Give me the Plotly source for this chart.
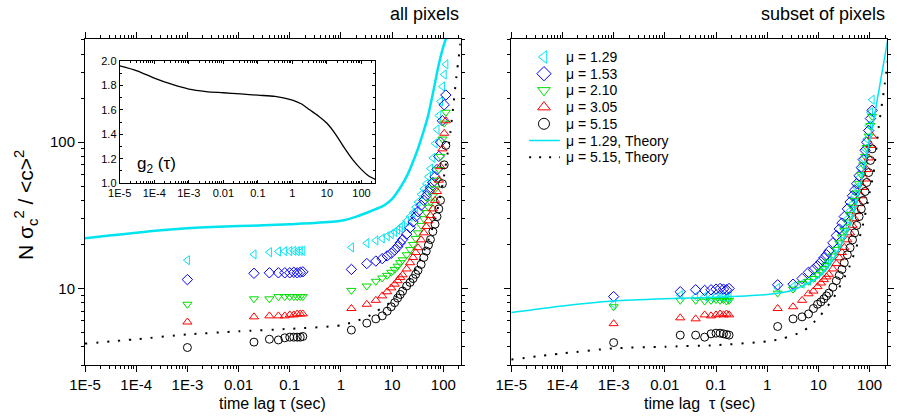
import math
import plotly.graph_objects as go

# ---------------- data ----------------
tau = [0.001, 0.02, 0.04, 0.06, 0.08, 0.10, 0.12, 0.14, 0.16, 0.18,
       1.6, 3.2, 4.8, 6.4, 8.0, 9.6, 11.2, 12.8, 14.4, 16.0,
       19.2, 22.4, 25.6, 28.8, 32.0, 36.8, 41.6, 46.4, 51.2, 56.0,
       62.4, 68.8, 75.2, 81.6, 88.0, 96.0, 104.0, 112.0]

# all pixels
all_mu129 = [15.6, 17.1, 17.7, 17.9, 18.0, 18.0, 18.1, 18.0, 18.1, 18.1,
             19.1, 20.4, 21.3, 22.0, 22.8, 23.5, 24.3, 25.2, 26.0, 27.0,
             29.0, 31.0, 33.0, 36.0, 39.0, 44.0, 48.0, 52.0, 58.0, 66.0,
             78.0, 98.0, 122.0, 152.0, 190.0, 240.0, 290.0, 340.0]
all_mu153 = [11.5, 12.7, 12.8, 12.8, 12.8, 12.8, 12.9, 12.8, 12.9, 13.0,
             13.5, 14.8, 15.4, 16.0, 16.7, 17.4, 18.3, 19.3, 20.5, 21.6,
             23.5, 26.0, 28.5, 31.0, 33.5, 37.0, 40.0, 43.0, 46.0, 49.0,
             53.0, 58.0, 65.0, 80.0, 100.0, 140.0, 180.0, 210.0]
all_mu210 = [7.8, 8.5, 8.5, 8.8, 8.8, 8.8, 8.8, 8.8, 8.8, 8.8,
             9.7, 10.4, 11.2, 11.8, 12.3, 12.9, 13.5, 14.2, 15.0, 15.7,
             17.0, 18.5, 20.0, 22.0, 24.0, 27.0, 30.0, 33.0, 36.0, 39.0,
             43.0, 48.0, 55.0, 65.0, 80.0, 105.0, 135.0, 160.0]
all_mu305 = [5.9, 6.4, 6.5, 6.5, 6.5, 6.6, 6.6, 6.7, 6.7, 6.7,
             7.3, 7.8, 8.3, 8.9, 9.5, 10.1, 10.7, 11.3, 11.9, 12.4,
             13.6, 15.0, 16.3, 17.6, 19.0, 21.5, 24.0, 26.5, 29.0, 31.5,
             35.0, 40.0, 46.0, 55.0, 68.0, 90.0, 115.0, 140.0]
all_mu515 = [3.95, 4.3, 4.5, 4.45, 4.6, 4.65, 4.65, 4.65, 4.65, 4.7,
             5.2, 5.8, 6.2, 6.5, 7.0, 7.5, 8.0, 8.6, 9.1, 9.6,
             10.4, 11.0, 11.7, 12.5, 13.3, 14.6, 16.3, 18.0, 19.8, 21.6,
             24.5, 27.5, 31.0, 35.0, 40.0, 52.0, 70.0, 95.0]

# subset of pixels
sub_mu129 = [7.8, 9.0, 8.8, 8.8, 8.7, 8.8, 8.7, 8.8, 8.7, 8.8,
             10.1, 10.3, 10.8, 11.3, 11.9, 12.6, 13.3, 14.0, 14.8, 15.5,
             17.0, 19.0, 21.0, 23.5, 26.0, 30.0, 34.0, 38.0, 43.0, 49.0,
             57.0, 66.0, 77.0, 90.0, 105.0, 130.0, 160.0, 195.0]
sub_mu153 = [8.8, 9.5, 9.8, 9.7, 9.8, 9.9, 10.0, 9.9, 9.8, 10.0,
             10.6, 10.7, 11.7, 12.9, 13.5, 14.3, 15.2, 16.2, 17.0, 18.0,
             20.5, 23.0, 25.5, 28.0, 31.0, 35.0, 39.0, 43.0, 47.0, 52.0,
             59.0, 67.0, 76.0, 88.0, 100.0, 120.0, 145.0, 165.0]
sub_mu210 = [7.5, 8.3, 8.3, 8.2, 8.3, 8.4, 8.3, 8.4, 8.2, 8.3,
             9.3, 9.9, 10.8, 11.2, 11.7, 12.4, 13.0, 13.7, 14.4, 15.2,
             16.7, 18.5, 20.5, 22.5, 25.0, 28.5, 32.0, 36.0, 40.0, 45.0,
             52.0, 60.0, 70.0, 80.0, 92.0, 110.0, 130.0, 150.0]
sub_mu305 = [5.75, 6.3, 6.2, 6.6, 6.5, 6.6, 6.7, 6.6, 6.7, 6.6,
             7.3, 7.5, 8.3, 9.2, 9.6, 10.3, 10.9, 11.5, 12.0, 12.5,
             13.6, 14.8, 16.2, 17.6, 19.1, 21.5, 24.0, 27.0, 30.0, 33.5,
             38.0, 43.0, 49.0, 56.0, 65.0, 78.0, 95.0, 110.0]
sub_mu515 = [4.27, 4.8, 4.8, 4.65, 4.9, 4.95, 4.95, 4.9, 4.85, 4.8,
             5.5, 6.2, 6.4, 6.7, 7.3, 7.8, 8.1, 8.5, 8.9, 9.3,
             10.2, 11.3, 12.3, 13.5, 15.0, 17.0, 19.0, 21.5, 24.0, 27.0,
             31.0, 35.0, 40.0, 46.0, 53.0, 62.0, 75.0, 90.0]

# theory curves
all_th129_tau = [1e-5, 3e-5, 1e-4, 3e-4, 1e-3, 3e-3, 0.01, 0.03, 0.1, 0.3,
                 1, 2, 4, 7, 10, 15, 20, 30, 40, 50, 65, 80, 100, 115]
all_th129 = [22, 23, 24, 25, 25.8, 26.3, 26.7, 27, 27.5, 28,
             29, 31, 34, 37, 41, 50, 60, 85, 115, 150, 230, 330, 450, 520]
all_th515_tau = [1e-5, 1e-4, 1e-3, 0.01, 0.1, 1, 2, 3, 5, 10,
                 20, 30, 50, 70, 100, 130, 160, 180, 200, 220]
all_th515 = [4.2, 4.5, 4.85, 5.1, 5.3, 5.6, 6.0, 6.3, 7.0, 8.2,
             11, 14, 21, 30, 55, 100, 190, 280, 380, 500]
sub_th129_tau = [1e-5, 1e-4, 1e-3, 0.01, 0.1, 1, 3, 10, 20, 40, 57, 80, 117, 160, 230]
sub_th129 = [6.85, 7.6, 8.2, 8.5, 8.7, 9.1, 9.7, 11.9, 16, 26, 40, 70, 135, 250, 520]
sub_th515_tau = [1e-5, 1e-4, 1e-3, 0.01, 0.1, 1, 2, 5, 10, 20, 40, 70, 100, 120, 150, 190, 240]
sub_th515 = [3.27, 3.6, 3.9, 4.0, 4.1, 4.35, 4.55, 5.1, 6.3, 8.7, 14, 25, 45, 62, 125, 225, 420]

# inset g2(tau)
g2_tau = [1e-5, 3.16e-5, 1e-4, 3.16e-4, 1e-3, 3.16e-3, 0.01, 0.0316, 0.1, 0.316,
          1, 1.78, 3.16, 5.62, 10, 17.8, 31.6, 56.2, 100, 158, 251]
g2 = [1.96, 1.92, 1.86, 1.81, 1.77, 1.75, 1.74, 1.73, 1.72, 1.71,
      1.68, 1.65, 1.60, 1.55, 1.49, 1.40, 1.29, 1.19, 1.11, 1.06, 1.03]

series_names = ["μ = 1.29", "μ = 1.53", "μ = 2.10", "μ = 3.05", "μ = 5.15"]
theory_names = ["μ = 1.29, Theory", "μ = 5.15, Theory"]
x_ticks = [1e-5, 1e-4, 1e-3, 0.01, 0.1, 1, 10, 100]
x_ticktext = ["1E-5", "1E-4", "1E-3", "0.01", "0.1", "1", "10", "100"]
y_ticks = [10, 100]
y_ticktext = ["10", "100"]

# ---------------- styles ----------------
CYAN = "#00E4F0"
colors = [CYAN, "#0000FF", "#00DD00", "#FF0000", "#000000"]
symbols = ["triangle-left-open", "diamond-open", "triangle-down-open",
           "triangle-up-open", "circle-open"]
FONT = "Arial, Liberation Sans, sans-serif"
DOT = "2px,9px"

fig = go.Figure()

all_sets = [all_mu129, all_mu153, all_mu210, all_mu305, all_mu515]
sub_sets = [sub_mu129, sub_mu153, sub_mu210, sub_mu305, sub_mu515]

# left panel
fig.add_trace(go.Scatter(x=all_th129_tau, y=all_th129, mode="lines",
                         line=dict(color=CYAN, width=2.5, shape="spline", smoothing=0.6),
                         showlegend=False, xaxis="x", yaxis="y"))
fig.add_trace(go.Scatter(x=all_th515_tau, y=all_th515, mode="lines",
                         line=dict(color="black", width=2, dash=DOT, shape="spline", smoothing=0.6),
                         showlegend=False, xaxis="x", yaxis="y"))
for vals, c, s, n in zip(all_sets, colors, symbols, series_names):
    fig.add_trace(go.Scatter(x=tau, y=vals, mode="markers", name=n,
                             marker=dict(symbol=s, color=c, size=8, line=dict(width=1, color=c)),
                             showlegend=False, xaxis="x", yaxis="y"))

# right panel
for vals, c, s, n in zip(sub_sets, colors, symbols, series_names):
    fig.add_trace(go.Scatter(x=tau, y=vals, mode="markers", name=n,
                             marker=dict(symbol=s, color=c, size=8, line=dict(width=1, color=c)),
                             showlegend=False, xaxis="x2", yaxis="y2"))
fig.add_trace(go.Scatter(x=sub_th129_tau, y=sub_th129, mode="lines", name=theory_names[0],
                         line=dict(color=CYAN, width=1.5, shape="spline", smoothing=0.6),
                         showlegend=False, xaxis="x2", yaxis="y2"))
fig.add_trace(go.Scatter(x=sub_th515_tau, y=sub_th515, mode="lines", name=theory_names[1],
                         line=dict(color="black", width=2, dash=DOT, shape="spline", smoothing=0.6),
                         showlegend=False, xaxis="x2", yaxis="y2"))

# inset
fig.add_trace(go.Scatter(x=g2_tau, y=g2, mode="lines",
                         line=dict(color="black", width=1.3, shape="spline", smoothing=0.8),
                         showlegend=False, xaxis="x3", yaxis="y3"))

# ---------------- legend (drawn on a hidden pixel-scaled overlay axis) ----------------
LEG_SYM_X = 548
LEG_LINE_X0, LEG_LINE_X1 = 533, 564
LEG_TEXT_X = 568
LEG_TOP = 57
LEG_STEP = 16.7
annotations = []
for i, (c, s, n) in enumerate(zip(colors, symbols, series_names)):
    ry = LEG_TOP + i * LEG_STEP
    fig.add_trace(go.Scatter(x=[LEG_SYM_X], y=[ry], mode="markers",
                             marker=dict(symbol=s, color=c, size=11, line=dict(width=1, color=c)),
                             showlegend=False, hoverinfo="skip", xaxis="x4", yaxis="y4"))
    annotations.append(dict(text=n, x=LEG_TEXT_X, y=ry, xref="x4", yref="y4",
                            xanchor="left", yanchor="middle", showarrow=False,
                            font=dict(size=14, color="black", family=FONT)))
for j, (n, lc, lw, ld) in enumerate(zip(theory_names, [CYAN, "black"], [1.5, 2], ["solid", "2px,8px"])):
    ry = LEG_TOP + (5 + j) * LEG_STEP
    fig.add_trace(go.Scatter(x=[LEG_LINE_X0, LEG_LINE_X1], y=[ry, ry], mode="lines",
                             line=dict(color=lc, width=lw, dash=ld),
                             showlegend=False, hoverinfo="skip", xaxis="x4", yaxis="y4"))
    annotations.append(dict(text=n, x=LEG_TEXT_X, y=ry, xref="x4", yref="y4",
                            xanchor="left", yanchor="middle", showarrow=False,
                            font=dict(size=14, color="black", family=FONT)))

# ---------------- axes ----------------
minor_x = [m * 10 ** e for e in range(-5, 3) for m in range(2, 10)]
minor_y = [m * 10 ** e for e in range(0, 3) for m in range(2, 10)]

def xaxis(domain, anchor):
    return dict(type="log", domain=domain, anchor=anchor, range=[-5, 2.34],
                tickmode="array", tickvals=x_ticks, ticktext=x_ticktext,
                ticks="outside", ticklen=6, tickwidth=1, tickcolor="black",
                showline=True, linecolor="black", linewidth=1, mirror="ticks",
                showgrid=False, zeroline=False,
                tickfont=dict(size=15, color="black", family=FONT),
                minor=dict(tickmode="array", tickvals=minor_x, ticks="outside",
                           ticklen=3, tickcolor="black", showgrid=False))

def yaxis(anchor, labels):
    return dict(type="log", domain=[0, 1], anchor=anchor,
                range=[math.log10(3), 2.705],
                tickmode="array", tickvals=y_ticks, ticktext=y_ticktext,
                showticklabels=labels,
                ticks="outside", ticklen=6, tickwidth=1, tickcolor="black",
                showline=True, linecolor="black", linewidth=1, mirror="ticks",
                showgrid=False, zeroline=False,
                tickfont=dict(size=15, color="black", family=FONT),
                minor=dict(tickmode="array", tickvals=minor_y, ticks="outside",
                           ticklen=3, tickcolor="black", showgrid=False))

annotations += [
    dict(text="all pixels", x=0.4685, y=1.077, xref="paper", yref="paper",
         xanchor="right", yanchor="middle", showarrow=False,
         font=dict(size=18, color="black", family=FONT)),
    dict(text="subset of pixels", x=1.0, y=1.077, xref="paper", yref="paper",
         xanchor="right", yanchor="middle", showarrow=False,
         font=dict(size=18, color="black", family=FONT)),
    dict(text="time lag τ (sec)", x=0.2342, y=-0.1166, xref="paper", yref="paper",
         xanchor="center", yanchor="middle", showarrow=False,
         font=dict(size=16, color="black", family=FONT)),
    dict(text="time lag  τ (sec)", x=0.7657, y=-0.1166, xref="paper", yref="paper",
         xanchor="center", yanchor="middle", showarrow=False,
         font=dict(size=16, color="black", family=FONT)),
    dict(text="N σ<sub>c</sub><sup>2</sup> / &lt;c&gt;<sup>2</sup>", x=-0.074, y=0.49,
         xref="paper", yref="paper", xanchor="center", yanchor="middle",
         textangle=-90, showarrow=False,
         font=dict(size=21, color="black", family=FONT)),
    dict(text="g<sub>2</sub> (τ)", x=0.0618, y=0.6135, xref="paper", yref="paper",
         xanchor="left", yanchor="middle", showarrow=False,
         font=dict(size=17, color="black", family=FONT)),
]

fig.update_layout(
    width=897, height=416,
    margin=dict(l=85, r=3, t=39, b=51),
    paper_bgcolor="white", plot_bgcolor="rgba(0,0,0,0)",
    font=dict(family=FONT, color="black"),
    showlegend=False,
    xaxis=xaxis([0, 0.4685], "y"),
    yaxis=yaxis("x", True),
    xaxis2=xaxis([0.5315, 1.0], "y2"),
    yaxis2=yaxis("x2", False),
    xaxis3=dict(type="log", domain=[0.0433, 0.362], anchor="y3", range=[-5, 2.4],
                tickmode="array", tickvals=x_ticks, ticktext=x_ticktext,
                ticks="inside", ticklen=3, tickcolor="black",
                showline=True, linecolor="black", linewidth=1, mirror="ticks",
                showgrid=False, zeroline=False,
                tickfont=dict(size=11, color="black", family=FONT),
                minor=dict(tickmode="array", tickvals=minor_x, ticks="inside",
                           ticklen=2, tickcolor="black", showgrid=False)),
    yaxis3=dict(domain=[0.558, 0.9325], anchor="x3", range=[1.0, 2.0],
                tickmode="linear", tick0=1.0, dtick=0.2, tickformat=".1f",
                ticks="inside", ticklen=3, tickcolor="black",
                showline=True, linecolor="black", linewidth=1, mirror="ticks",
                showgrid=False, zeroline=False,
                tickfont=dict(size=11, color="black", family=FONT),
                minor=dict(tickmode="linear", tick0=1.0, dtick=0.1, ticks="inside",
                           ticklen=2, tickcolor="black", showgrid=False)),
    xaxis4=dict(domain=[0.5315, 1.0], anchor="y4", range=[515, 894], visible=False,
                fixedrange=True),
    yaxis4=dict(domain=[0, 1], anchor="x4", range=[365, 39], visible=False,
                fixedrange=True),
    annotations=annotations,
)

fig.write_html("out.html", config={"displayModeBar": False},
               post_script="document.body.style.margin='0px';document.body.style.padding='0px';")
